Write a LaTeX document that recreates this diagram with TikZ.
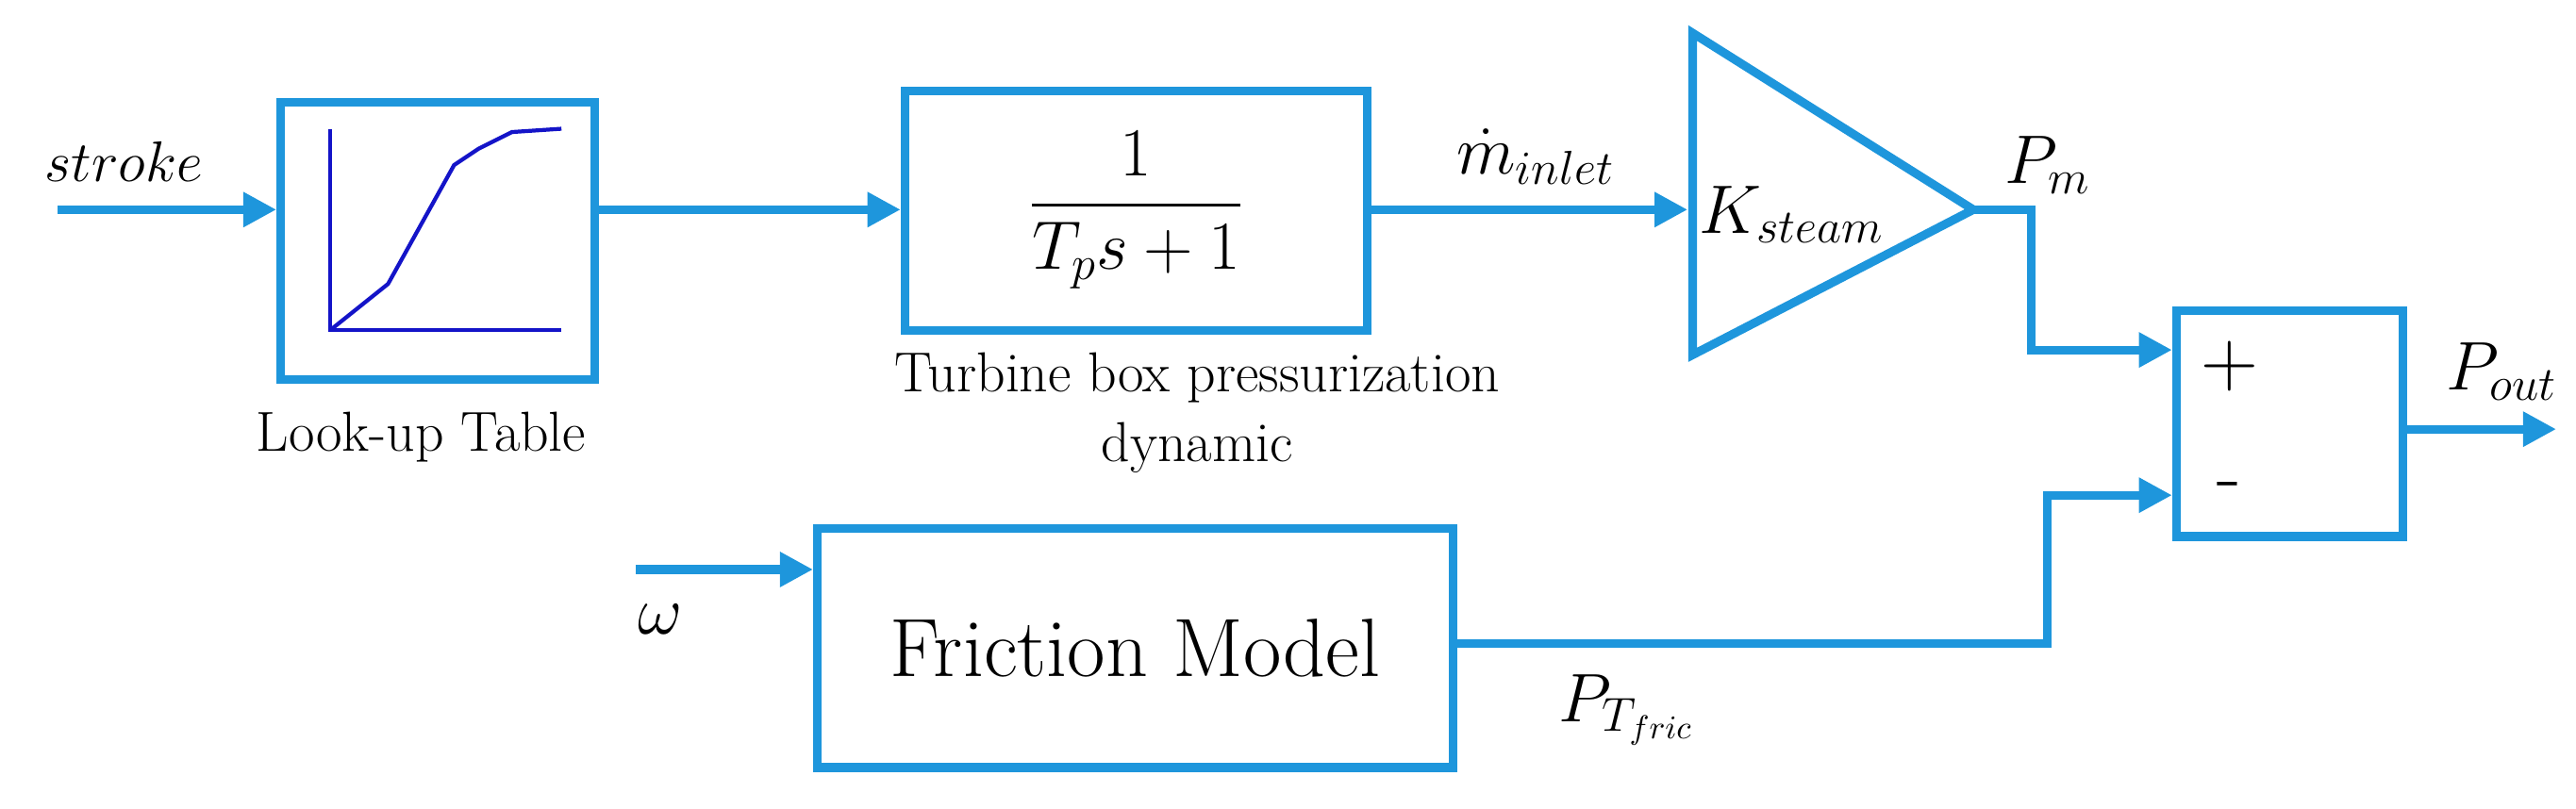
\documentclass[tikz,border=0pt]{standalone}
\usepackage{amsmath}
\usepackage{tikz}
\usetikzlibrary{arrows.meta}
\definecolor{lineblue}{RGB}{30,150,220}
\definecolor{plotblue}{RGB}{20,20,200}
\begin{document}
\begin{tikzpicture}[x=0.0175cm,y=-0.0175cm,
    blk/.style={draw=lineblue, line width=2.6pt, minimum width=#1},
    sig/.style={draw=lineblue, line width=2.6pt, -{Triangle[length=10pt,width=10pt]}},
    wire/.style={draw=lineblue, line width=2.6pt},
    lbl/.style={font=\fontsize{17}{21}\selectfont}]
  \useasboundingbox (0,0) rectangle (1560,490);
  % look-up table
  \node (L) [blk=190*0.0175cm, minimum height=168*0.0175cm] at (265,146) {};
  \draw[plotblue, line width=1.2pt] (200,78) -- (200,200) -- (340,200);
  \draw[plotblue, line width=1.2pt] (200,200) -- (235,172) -- (275,100) -- (290,90) -- (310,80) -- (340,78);
  \node [lbl] at (255,265) {Look-up Table};
  \coordinate (in) at (35,127);
  \node [lbl, font=\fontsize{18}{21}\selectfont] at (75,98) {$stroke$};
  \draw[sig] (in) -- (L.west |- in);
  % turbine box
  \node (T) [blk=280*0.0175cm, minimum height=145*0.0175cm, font=\fontsize{20}{24}\selectfont] at (688,127.5) {$\dfrac{1}{T_p s+1}$};
  \draw[sig] (L.east |- in) -- (T.west |- in);
  \node [lbl, align=center] at (725,250) {Turbine box pressurization\\dynamic};
  % gain
  \coordinate (g1) at (1025,20);
  \coordinate (g2) at (1025,215);
  \coordinate (gt) at (1195,127);
  \draw[wire, line join=miter] (g1) -- (gt) -- (g2) -- cycle;
  \node [lbl, font=\fontsize{20}{24}\selectfont] at (1085,130) {$K_{steam}$};
  \draw[sig] (T.east |- in) -- (1022,127);
  \node [lbl, font=\fontsize{20}{24}\selectfont] at (930,95) {$\dot{m}_{inlet}$};
  % sum
  \node (S) [blk=137*0.0175cm, minimum height=137*0.0175cm] at (1386.5,256.5) {};
  \node [lbl, font=\fontsize{24}{28}\selectfont] at (1350,222) {+};
  \node [lbl, font=\fontsize{24}{28}\selectfont] at (1350,298) {-};
  \draw[sig] (gt) -- (1230,127) -- (1230,212) -- (S.west |- 0,212);
  \node [lbl, font=\fontsize{20}{24}\selectfont] at (1240,100) {$P_m$};
  \coordinate (out) at (1548,260);
  \draw[sig] (S.east |- out) -- (out);
  \node [lbl, font=\fontsize{20}{24}\selectfont] at (1515,225) {$P_{out}$};
  % friction
  \node (F) [blk=385*0.0175cm, minimum height=145*0.0175cm, font=\fontsize{25}{30}\selectfont] at (687.5,392.5) {Friction Model};
  \coordinate (w) at (385,345);
  \draw[sig] (w) -- (F.west |- w);
  \node [lbl, font=\fontsize{20}{24}\selectfont] at (400,375) {$\omega$};
  \draw[sig] (F.east |- 0,390) -- (1240,390) -- (1240,300) -- (S.west |- 0,300);
  \node [lbl, font=\fontsize{20}{24}\selectfont] at (985,430) {$P_{T_{fric}}$};
\end{tikzpicture}
\end{document}
